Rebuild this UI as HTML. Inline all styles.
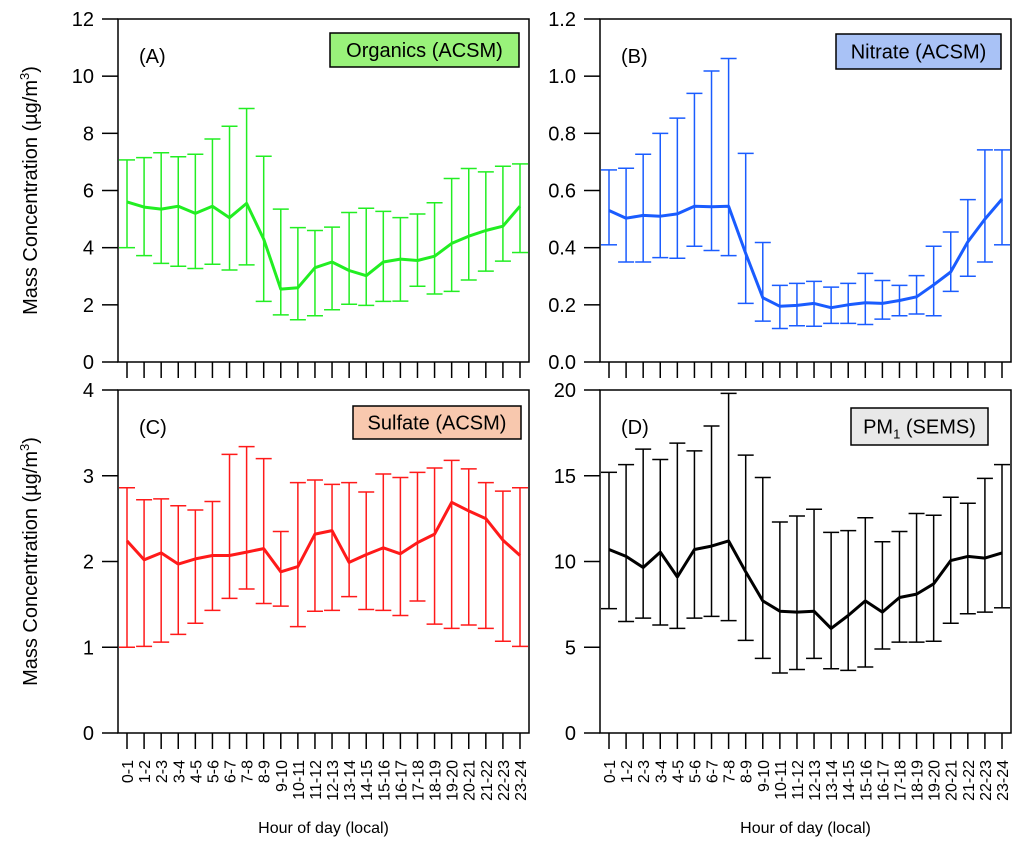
<!DOCTYPE html>
<html><head><meta charset="utf-8"><style>
html,body{margin:0;padding:0;background:#fff;}
svg{display:block;font-family:"Liberation Sans",Arial,sans-serif;}
</style></head><body>
<svg id="fig" width="1024" height="847" viewBox="0 0 1024 847" xmlns="http://www.w3.org/2000/svg"></svg>
<script>
const categories=["0-1","1-2","2-3","3-4","4-5","5-6","6-7","7-8","8-9","9-10","10-11","11-12","12-13","13-14","14-15","15-16","16-17","17-18","18-19","19-20","20-21","21-22","22-23","23-24"];
const orgMean=[5.6,5.42,5.35,5.45,5.2,5.45,5.05,5.55,4.3,2.55,2.6,3.3,3.5,3.2,3.02,3.5,3.6,3.55,3.7,4.15,4.4,4.6,4.75,5.45];
const orgHi=[7.07,7.15,7.32,7.18,7.27,7.8,8.25,8.87,7.2,5.35,4.7,4.6,4.72,5.23,5.38,5.27,5.05,5.18,5.57,6.42,6.77,6.65,6.85,6.93];
const orgLo=[4.0,3.72,3.45,3.35,3.27,3.42,3.22,3.4,2.12,1.65,1.48,1.62,1.83,2.02,1.98,2.12,2.13,2.65,2.38,2.47,2.87,3.18,3.53,3.83];
const nitMean=[0.53,0.503,0.513,0.51,0.518,0.545,0.543,0.545,0.38,0.225,0.195,0.198,0.205,0.19,0.2,0.207,0.205,0.215,0.228,0.27,0.315,0.42,0.5,0.57];
const nitHi=[0.672,0.678,0.727,0.8,0.853,0.94,1.018,1.062,0.73,0.418,0.268,0.275,0.282,0.262,0.275,0.31,0.285,0.268,0.302,0.405,0.455,0.568,0.742,0.742];
const nitLo=[0.41,0.35,0.35,0.365,0.363,0.405,0.39,0.372,0.205,0.143,0.117,0.127,0.125,0.135,0.135,0.131,0.15,0.162,0.168,0.162,0.247,0.3,0.35,0.41];
const sulMean=[2.24,2.02,2.1,1.97,2.03,2.07,2.07,2.11,2.15,1.88,1.94,2.32,2.36,1.99,2.08,2.16,2.09,2.22,2.32,2.69,2.59,2.5,2.25,2.07];
const sulHi=[2.86,2.72,2.73,2.65,2.6,2.7,3.25,3.34,3.2,2.35,2.92,2.95,2.9,2.92,2.81,3.02,2.98,3.04,3.09,3.18,3.08,2.92,2.82,2.86];
const sulLo=[1.0,1.01,1.06,1.15,1.28,1.43,1.57,1.68,1.51,1.48,1.24,1.42,1.43,1.59,1.44,1.43,1.37,1.54,1.27,1.22,1.26,1.22,1.07,1.01];
const pmMean=[10.7,10.3,9.65,10.55,9.1,10.7,10.9,11.2,9.4,7.7,7.1,7.05,7.1,6.1,6.85,7.7,7.05,7.9,8.1,8.7,10.05,10.3,10.2,10.5];
const pmHi=[15.2,15.65,16.55,15.95,16.9,16.45,17.9,19.8,16.2,14.9,12.3,12.65,13.05,11.7,11.8,12.55,11.15,11.75,12.8,12.7,13.75,13.4,14.85,15.65];
const pmLo=[7.25,6.5,6.7,6.3,6.1,6.7,6.8,6.55,5.4,4.35,3.5,3.7,4.35,3.75,3.65,3.85,4.9,5.3,5.3,5.35,6.4,6.95,7.05,7.3];
const ticksA=["0","2","4","6","8","10","12"];
const ticksB=["0.0","0.2","0.4","0.6","0.8","1.0","1.2"];
const ticksC=["0","1","2","3","4"];
const ticksD=["0","5","10","15","20"];

const NS="http://www.w3.org/2000/svg";
const svg=document.getElementById('fig');
function mk(tag,attrs,parent){const e=document.createElementNS(NS,tag);for(const k in attrs)e.setAttribute(k,attrs[k]);(parent||svg).appendChild(e);return e;}

const panels=[
 {id:'a',L:118,R:529,T:19,B:362,max:12,ticks:ticksA,mean:orgMean,hi:orgHi,lo:orgLo,color:'#22ee22',letter:'(A)',leg:'Organics (ACSM)',lx:330,ly:33,lw:189,lh:34,lfill:'#99f27a',bottom:false,ytitle:true},
 {id:'b',L:600,R:1011,T:19,B:362,max:1.2,ticks:ticksB,mean:nitMean,hi:nitHi,lo:nitLo,color:'#1a5cff',letter:'(B)',leg:'Nitrate (ACSM)',lx:836,ly:34,lw:165,lh:35,lfill:'#a9c2f6',bottom:false,ytitle:false},
 {id:'c',L:118,R:529,T:390,B:733,max:4,ticks:ticksC,mean:sulMean,hi:sulHi,lo:sulLo,color:'#ff1a1a',letter:'(C)',leg:'Sulfate (ACSM)',lx:353,ly:406,lw:168,lh:33,lfill:'#f8c8ae',bottom:true,ytitle:true},
 {id:'d',L:600,R:1011,T:390,B:733,max:20,ticks:ticksD,mean:pmMean,hi:pmHi,lo:pmLo,color:'#000000',letter:'(D)',leg:'PM1',lx:851,ly:408,lw:137,lh:37,lfill:'#e8e8e8',bottom:true,ytitle:false}
];

panels.forEach(p=>{
  const g=mk('g',{});
  
  
  const x0=p.L+9, x1=p.R-9;
  const xs=i=>x0+i*(x1-x0)/(categories.length-1);
  const ys=v=>p.B-(v/p.max)*(p.B-p.T);
  const fr=mk('rect',{x:p.L,y:p.T,width:p.R-p.L,height:p.B-p.T,fill:'none',stroke:'#000','stroke-width':1.5},g);
  
  
  p.ticks.forEach(t=>{
    const y=ys(parseFloat(t));
    mk('line',{x1:p.L-16,x2:p.L,y1:y,y2:y,stroke:'#000','stroke-width':1.5},g);
    const tx=mk('text',{x:p.L-24,y:y+7,'font-size':20,'text-anchor':'end',fill:'#000'},g);
    tx.textContent=t;
    
    
  });
  categories.forEach((c,i)=>{
    const x=xs(i);
    mk('line',{x1:x,x2:x,y1:p.B,y2:p.B+16,stroke:'#000','stroke-width':1.5},g);
    if(p.bottom){
      const tx=mk('text',{x:0,y:0,'font-size':16,'text-anchor':'end',fill:'#000',transform:`translate(${x+6},760) rotate(-90)`},g);
      tx.textContent=c;
      
      
    }
  });
  categories.forEach((c,i)=>{
    const x=xs(i);
    const eb=mk('g',{stroke:p.color,'stroke-width':1.5},g);
    
    
    mk('line',{x1:x,x2:x,y1:ys(p.lo[i]),y2:ys(p.hi[i])},eb);
    mk('line',{x1:x-8,x2:x+8,y1:ys(p.lo[i]),y2:ys(p.lo[i])},eb);
    mk('line',{x1:x-8,x2:x+8,y1:ys(p.hi[i]),y2:ys(p.hi[i])},eb);
  });
  const pts=p.mean.map((v,i)=>xs(i).toFixed(1)+','+ys(v).toFixed(1)).join(' ');
  const ln=mk('polyline',{points:pts,fill:'none',stroke:p.color,'stroke-width':3,'stroke-linejoin':'round'},g);
  
  
  const lt=mk('text',{x:p.L+21,y:p.T+44,'font-size':20,fill:'#000'},g);
  lt.textContent=p.letter;
  
  
  const lg=mk('g',{},g);
  
  
  mk('rect',{x:p.lx,y:p.ly,width:p.lw,height:p.lh,fill:p.lfill,stroke:'#000','stroke-width':1.5},lg);
  const ltx=mk('text',{x:p.lx+p.lw/2,y:p.ly+p.lh/2+7,'font-size':20,'text-anchor':'middle',fill:'#000'},lg);
  if(p.leg==='PM1'){ltx.innerHTML='PM<tspan font-size="13" dy="5">1</tspan><tspan dy="-5"> (SEMS)</tspan>';}
  else ltx.textContent=p.leg;
  if(p.ytitle){
    const cy=(p.T+p.B)/2;
    const yt=mk('text',{x:0,y:0,'font-size':20,'text-anchor':'middle',fill:'#000',transform:`translate(37,${cy}) rotate(-90)`},g);
    yt.innerHTML='Mass Concentration (µg/m<tspan font-size="13" dy="-8">3</tspan><tspan dy="8">)</tspan>';
    
    
  }
  if(p.bottom){
    const xt=mk('text',{x:(p.L+p.R)/2,y:833,'font-size':16,'text-anchor':'middle',fill:'#000'},g);
    xt.textContent='Hour of day (local)';
    
    
  }
});
</script>
</body></html>
